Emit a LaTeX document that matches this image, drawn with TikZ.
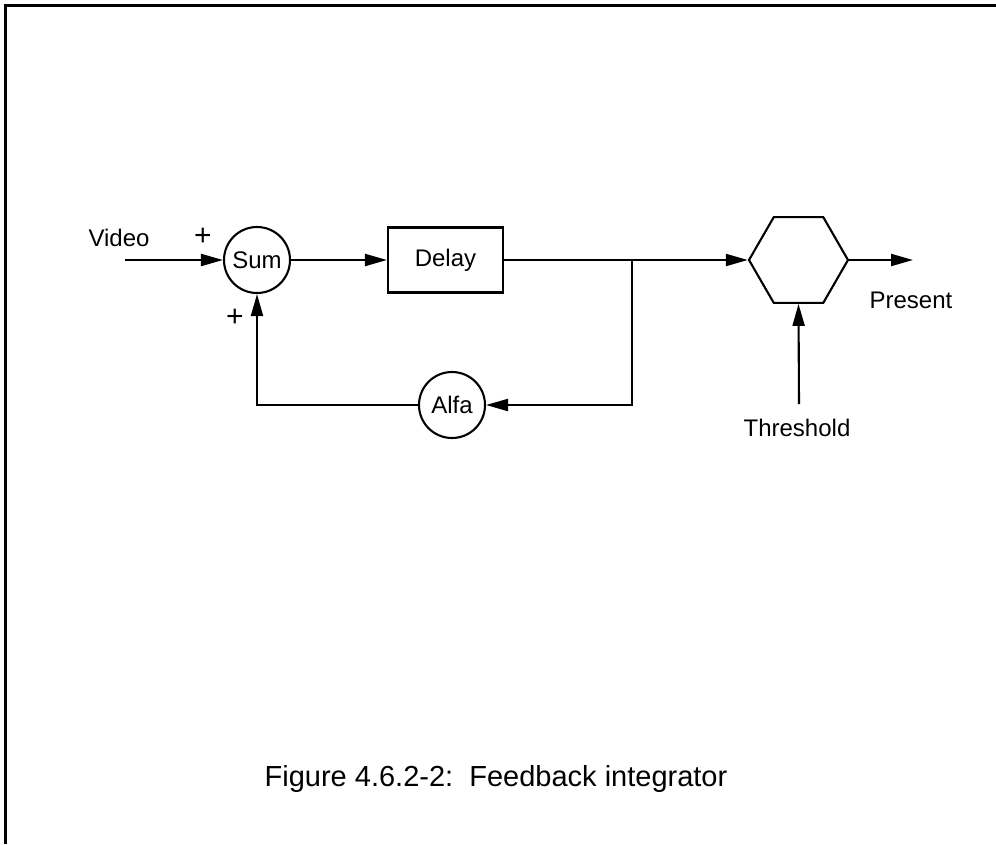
\documentclass[tikz,border=0pt]{standalone}
\usepackage{fontspec}
\setmainfont{Liberation Sans}
\usetikzlibrary{arrows.meta,shapes.geometric}
\begin{document}
\begin{tikzpicture}[x=1pt,y=-1pt,
  line width=2.1pt,
  lbl/.style={font=\fontsize{24}{28}\selectfont, inner sep=0pt},
  pluslbl/.style={font=\fontsize{30}{34}\selectfont, inner sep=0pt},
  circ/.style={draw, circle, minimum size=66pt, inner sep=0pt, font=\fontsize{24}{28}\selectfont},
  blk/.style={draw, rectangle, minimum width=115pt, minimum height=65pt, inner sep=0pt, font=\fontsize{24}{28}\selectfont},
  hexa/.style={draw, regular polygon, regular polygon sides=6, minimum size=99pt, inner sep=0pt},
  arr/.style={-{Triangle[length=22pt,width=12pt]}},
  frame/.style={line width=3pt}]
\useasboundingbox (0,0) rectangle (996,844);
\draw[frame] (5.5,844) -- (5.5,5.5) -- (996,5.5);

\node[circ] (sum) at (257,260) {Sum};
\node[blk] (delay) at (445.5,260) {Delay};
\node[circ] (alfa) at (452,405) {Alfa};
\node[hexa] (hex) at (798.5,260) {};

\coordinate (vin) at (125,260);
\coordinate (j) at (632,260);
\coordinate (out) at (913,260);
\coordinate (th) at (799,404);

\draw[arr] (vin) -- (sum);
\draw[arr] (sum) -- (delay);
\draw[arr] (delay.east) -- (hex.west);
\draw[arr] (j) |- (alfa.east);
\draw[arr] (alfa.west) -| (sum.south);
\draw[arr] (hex.east) -- (out);
\draw[arr] (th) -- (hex.south);

\node[lbl] (video) at (119,238) {Video};
\node[pluslbl] (plus1) at (203,237) {+};
\node[pluslbl] (plus2) at (235,318) {+};
\node[lbl] (present) at (911,300) {Present};
\node[lbl] (thresh) at (797,428) {Threshold};
\node[font=\fontsize{29}{34}\selectfont, inner sep=0pt] (cap) at (496,779) {Figure 4.6.2-2:\ \ Feedback integrator};
\end{tikzpicture}
\end{document}
